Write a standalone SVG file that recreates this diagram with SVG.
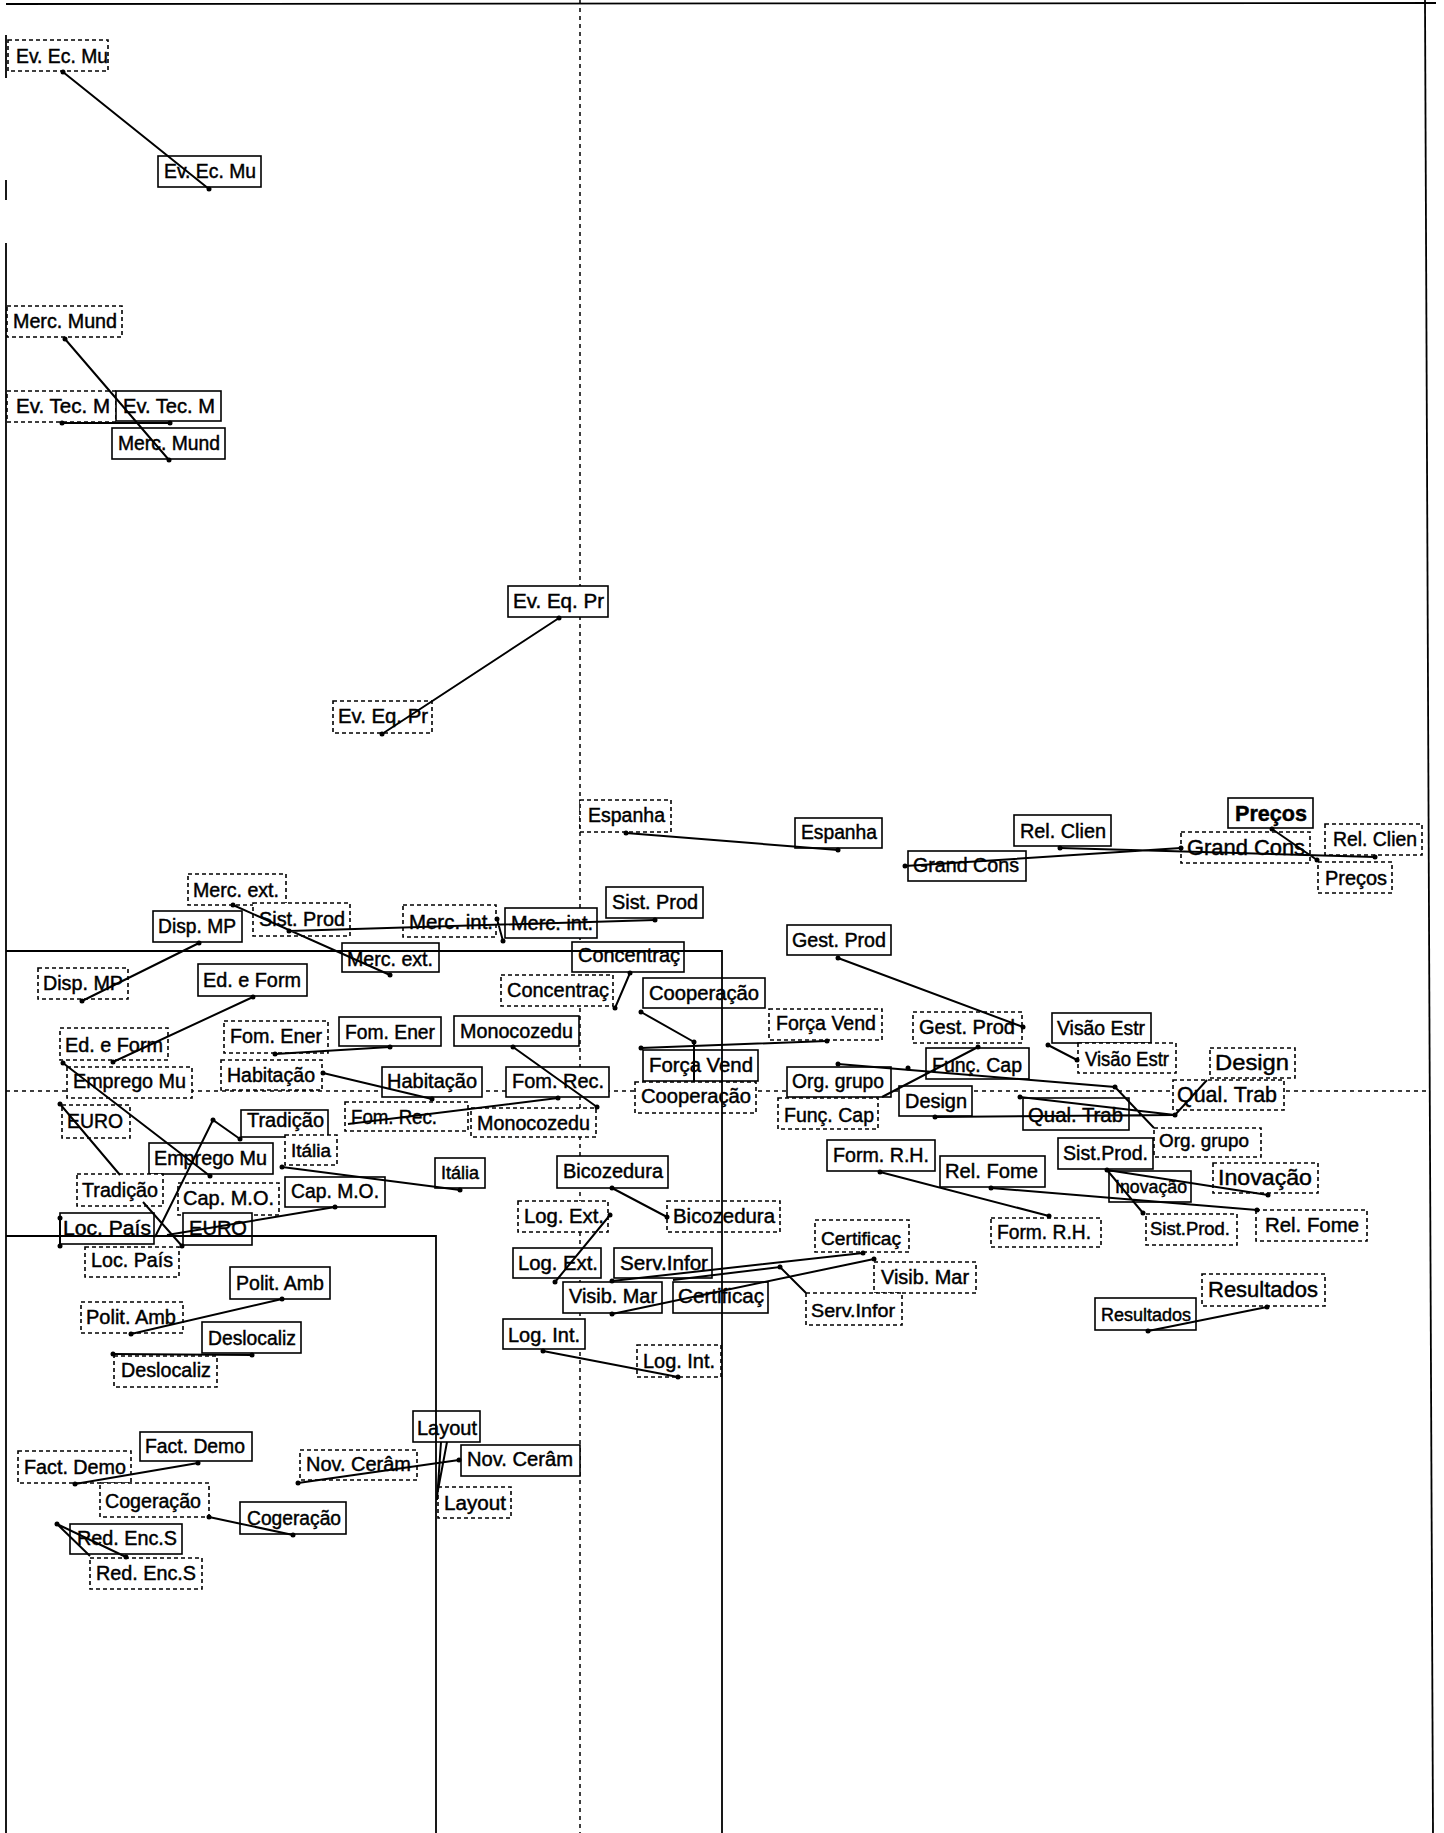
<svg xmlns="http://www.w3.org/2000/svg" width="1444" height="1833" viewBox="0 0 1444 1833">
<style>
.s{fill:#fff;stroke:#000;stroke-width:1.6}
.d{fill:#fff;stroke:#000;stroke-width:1.6;stroke-dasharray:4 3}
text{font-family:"Liberation Sans",Arial,sans-serif;font-size:20px;fill:#000;stroke:#000;stroke-width:0.45}
.sm{font-size:18px}
.lg{font-size:22px}
.ax{stroke:#000;stroke-width:1.5;stroke-dasharray:4 4;fill:none}
.fr{stroke:#000;stroke-width:1.8;fill:none}
.c{stroke:#000;stroke-width:2;fill:none}
.dot{fill:#000}
</style>
<rect x="0" y="0" width="1444" height="1833" fill="#fff"/>
<g id="axes">
<line class="ax" x1="580" y1="0" x2="580" y2="1833"/>
<line class="ax" x1="6" y1="1091" x2="1428" y2="1091"/>
<line class="fr" x1="6" y1="4" x2="1436" y2="3"/>
<line class="fr" x1="6" y1="35" x2="6" y2="78"/>
<line class="fr" x1="6" y1="180" x2="6" y2="200"/>
<line class="fr" x1="6" y1="243" x2="6" y2="1833"/>
<line class="fr" x1="1425" y1="0" x2="1433" y2="1833"/>
</g>
<g id="n1"><rect class="d" x="8" y="40" width="100" height="31"/><text x="16" y="63" textLength="92" lengthAdjust="spacingAndGlyphs">Ev. Ec. Mu</text></g>
<g id="n2"><rect class="s" x="158" y="156" width="103" height="31"/><text x="164" y="178" textLength="92" lengthAdjust="spacingAndGlyphs">Ev. Ec. Mu</text></g>
<g id="n3"><rect class="d" x="7" y="306" width="115" height="31"/><text x="13" y="328" textLength="104" lengthAdjust="spacingAndGlyphs">Merc. Mund</text></g>
<g id="n4"><rect class="d" x="7" y="391" width="109" height="31"/><text x="16" y="413" textLength="94" lengthAdjust="spacingAndGlyphs">Ev. Tec. M</text></g>
<g id="n5"><rect class="s" x="116" y="391" width="105" height="30"/><text x="123" y="413" textLength="92" lengthAdjust="spacingAndGlyphs">Ev. Tec. M</text></g>
<g id="n6"><rect class="s" x="112" y="428" width="113" height="31"/><text x="118" y="450" textLength="102" lengthAdjust="spacingAndGlyphs">Merc. Mund</text></g>
<g id="n7"><rect class="s" x="508" y="586" width="100" height="31"/><text x="513" y="608" textLength="91" lengthAdjust="spacingAndGlyphs">Ev. Eq. Pr</text></g>
<g id="n8"><rect class="d" x="333" y="701" width="99" height="32"/><text x="338" y="723" textLength="90" lengthAdjust="spacingAndGlyphs">Ev. Eq. Pr</text></g>
<g id="n9"><rect class="d" x="580" y="800" width="91" height="32"/><text x="588" y="822" textLength="77" lengthAdjust="spacingAndGlyphs">Espanha</text></g>
<g id="n10"><rect class="s" x="795" y="818" width="87" height="30"/><text x="801" y="839" textLength="76" lengthAdjust="spacingAndGlyphs">Espanha</text></g>
<g id="n11"><rect class="s" x="908" y="851" width="118" height="30"/><text x="913" y="872" textLength="106" lengthAdjust="spacingAndGlyphs">Grand Cons</text></g>
<g id="n12"><rect class="s" x="1014" y="815" width="97" height="31"/><text x="1020" y="838" textLength="86" lengthAdjust="spacingAndGlyphs">Rel. Clien</text></g>
<g id="n13"><rect class="d" x="1181" y="832" width="129" height="31"/><text class="lg" x="1187" y="855" textLength="118" lengthAdjust="spacingAndGlyphs">Grand Cons</text></g>
<g id="n14"><rect class="s" x="1228" y="798" width="85" height="30"/><text class="lg" x="1235" y="821" textLength="72" lengthAdjust="spacingAndGlyphs" font-weight="bold">Preços</text></g>
<g id="n15"><rect class="d" x="1325" y="824" width="97" height="31"/><text x="1333" y="846" textLength="84" lengthAdjust="spacingAndGlyphs">Rel. Clien</text></g>
<g id="n16"><rect class="d" x="1318" y="862" width="74" height="31"/><text x="1325" y="885" textLength="62" lengthAdjust="spacingAndGlyphs">Preços</text></g>
<g id="n17"><rect class="d" x="188" y="874" width="98" height="31"/><text x="193" y="897" textLength="86" lengthAdjust="spacingAndGlyphs">Merc. ext.</text></g>
<g id="n18"><rect class="d" x="253" y="903" width="97" height="33"/><text x="259" y="926" textLength="86" lengthAdjust="spacingAndGlyphs">Sist. Prod</text></g>
<g id="n19"><rect class="s" x="153" y="911" width="89" height="31"/><text x="158" y="933" textLength="78" lengthAdjust="spacingAndGlyphs">Disp. MP</text></g>
<g id="n20"><rect class="s" x="342" y="943" width="97" height="29"/><text x="347" y="966" textLength="86" lengthAdjust="spacingAndGlyphs">Merc. ext.</text></g>
<g id="n21"><rect class="d" x="38" y="968" width="90" height="31"/><text x="43" y="990" textLength="80" lengthAdjust="spacingAndGlyphs">Disp. MP</text></g>
<g id="n22"><rect class="s" x="198" y="964" width="109" height="32"/><text x="203" y="987" textLength="98" lengthAdjust="spacingAndGlyphs">Ed. e Form</text></g>
<g id="n23"><rect class="d" x="60" y="1028" width="108" height="32"/><text x="65" y="1052" textLength="98" lengthAdjust="spacingAndGlyphs">Ed. e Form</text></g>
<g id="n24"><rect class="d" x="224" y="1021" width="104" height="32"/><text x="230" y="1043" textLength="92" lengthAdjust="spacingAndGlyphs">Fom. Ener</text></g>
<g id="n25"><rect class="s" x="339" y="1017" width="102" height="29"/><text x="345" y="1039" textLength="90" lengthAdjust="spacingAndGlyphs">Fom. Ener</text></g>
<g id="n26"><rect class="d" x="221" y="1060" width="101" height="30"/><text x="227" y="1082" textLength="88" lengthAdjust="spacingAndGlyphs">Habitação</text></g>
<g id="n27"><rect class="d" x="67" y="1067" width="125" height="31"/><text x="73" y="1088" textLength="113" lengthAdjust="spacingAndGlyphs">Emprego Mu</text></g>
<g id="n28"><rect class="d" x="403" y="905" width="93" height="32"/><text x="409" y="929" textLength="84" lengthAdjust="spacingAndGlyphs">Merc. int.</text></g>
<g id="n29"><rect class="s" x="505" y="908" width="92" height="30"/><text x="511" y="930" textLength="82" lengthAdjust="spacingAndGlyphs">Merc. int.</text></g>
<g id="n30"><rect class="s" x="606" y="887" width="97" height="31"/><text x="612" y="909" textLength="86" lengthAdjust="spacingAndGlyphs">Sist. Prod</text></g>
<g id="n31"><rect class="s" x="572" y="942" width="112" height="30"/><text x="578" y="962" textLength="102" lengthAdjust="spacingAndGlyphs">Concentraç</text></g>
<g id="n32"><rect class="d" x="501" y="975" width="112" height="31"/><text x="507" y="997" textLength="102" lengthAdjust="spacingAndGlyphs">Concentraç</text></g>
<g id="n33"><rect class="s" x="643" y="978" width="122" height="30"/><text x="649" y="1000" textLength="110" lengthAdjust="spacingAndGlyphs">Cooperação</text></g>
<g id="n34"><rect class="s" x="454" y="1016" width="125" height="30"/><text x="460" y="1038" textLength="113" lengthAdjust="spacingAndGlyphs">Monocozedu</text></g>
<g id="n35"><rect class="s" x="643" y="1050" width="115" height="31"/><text x="649" y="1072" textLength="104" lengthAdjust="spacingAndGlyphs">Força Vend</text></g>
<g id="n36"><rect class="s" x="506" y="1067" width="103" height="30"/><text x="512" y="1088" textLength="92" lengthAdjust="spacingAndGlyphs">Fom. Rec.</text></g>
<g id="n37"><rect class="s" x="382" y="1067" width="100" height="30"/><text x="387" y="1088" textLength="90" lengthAdjust="spacingAndGlyphs">Habitação</text></g>
<g id="n38"><rect class="d" x="635" y="1082" width="121" height="31"/><text x="641" y="1103" textLength="110" lengthAdjust="spacingAndGlyphs">Cooperação</text></g>
<g id="n39"><rect class="d" x="471" y="1108" width="125" height="29"/><text x="477" y="1130" textLength="113" lengthAdjust="spacingAndGlyphs">Monocozedu</text></g>
<g id="n40"><rect class="d" x="345" y="1102" width="123" height="29"/><text x="351" y="1124" textLength="86" lengthAdjust="spacingAndGlyphs">Fom. Rec.</text></g>
<g id="n41"><rect class="d" x="769" y="1009" width="113" height="31"/><text x="776" y="1030" textLength="100" lengthAdjust="spacingAndGlyphs">Força Vend</text></g>
<g id="n42"><rect class="s" x="787" y="925" width="104" height="30"/><text x="792" y="947" textLength="94" lengthAdjust="spacingAndGlyphs">Gest. Prod</text></g>
<g id="n43"><rect class="d" x="913" y="1012" width="109" height="31"/><text x="919" y="1034" textLength="96" lengthAdjust="spacingAndGlyphs">Gest. Prod</text></g>
<g id="n44"><rect class="s" x="1052" y="1013" width="99" height="30"/><text x="1057" y="1035" textLength="88" lengthAdjust="spacingAndGlyphs">Visão Estr</text></g>
<g id="n45"><rect class="d" x="1078" y="1043" width="98" height="30"/><text x="1085" y="1066" textLength="84" lengthAdjust="spacingAndGlyphs">Visão Estr</text></g>
<g id="n46"><rect class="s" x="926" y="1048" width="103" height="31"/><text x="932" y="1072" textLength="90" lengthAdjust="spacingAndGlyphs">Funç. Cap</text></g>
<g id="n47"><rect class="s" x="787" y="1067" width="104" height="30"/><text x="792" y="1088" textLength="92" lengthAdjust="spacingAndGlyphs">Org. grupo</text></g>
<g id="n48"><rect class="d" x="778" y="1098" width="100" height="31"/><text x="784" y="1122" textLength="90" lengthAdjust="spacingAndGlyphs">Funç. Cap</text></g>
<g id="n49"><rect class="s" x="899" y="1086" width="73" height="30"/><text x="905" y="1108" textLength="62" lengthAdjust="spacingAndGlyphs">Design</text></g>
<g id="n50"><rect class="s" x="1023" y="1098" width="106" height="32"/><text x="1028" y="1122" textLength="95" lengthAdjust="spacingAndGlyphs">Qual. Trab</text></g>
<g id="n51"><rect class="s" x="827" y="1140" width="108" height="31"/><text x="833" y="1162" textLength="96" lengthAdjust="spacingAndGlyphs">Form. R.H.</text></g>
<g id="n52"><rect class="s" x="940" y="1156" width="105" height="31"/><text x="945" y="1178" textLength="93" lengthAdjust="spacingAndGlyphs">Rel. Fome</text></g>
<g id="n53"><rect class="s" x="1058" y="1138" width="95" height="31"/><text x="1063" y="1160" textLength="85" lengthAdjust="spacingAndGlyphs">Sist.Prod.</text></g>
<g id="n54"><rect class="s" x="1109" y="1171" width="82" height="31"/><text class="sm" x="1115" y="1193" textLength="72" lengthAdjust="spacingAndGlyphs">Inovação</text></g>
<g id="n55"><rect class="d" x="1154" y="1128" width="107" height="29"/><text class="sm" x="1159" y="1147" textLength="90" lengthAdjust="spacingAndGlyphs">Org. grupo</text></g>
<g id="n56"><rect class="d" x="1173" y="1080" width="111" height="30"/><text class="lg" x="1177" y="1102" textLength="100" lengthAdjust="spacingAndGlyphs">Qual. Trab</text></g>
<g id="n57"><rect class="d" x="1210" y="1048" width="85" height="30"/><text class="lg" x="1215" y="1070" textLength="74" lengthAdjust="spacingAndGlyphs">Design</text></g>
<g id="n58"><rect class="d" x="1213" y="1163" width="105" height="30"/><text class="lg" x="1218" y="1185" textLength="94" lengthAdjust="spacingAndGlyphs">Inovação</text></g>
<g id="n59"><rect class="d" x="1146" y="1214" width="91" height="31"/><text class="sm" x="1150" y="1235" textLength="80" lengthAdjust="spacingAndGlyphs">Sist.Prod.</text></g>
<g id="n60"><rect class="d" x="1256" y="1210" width="111" height="31"/><text x="1265" y="1232" textLength="94" lengthAdjust="spacingAndGlyphs">Rel. Fome</text></g>
<g id="n61"><rect class="d" x="991" y="1218" width="110" height="29"/><text x="997" y="1239" textLength="94" lengthAdjust="spacingAndGlyphs">Form. R.H.</text></g>
<g id="n62"><rect class="s" x="1095" y="1298" width="101" height="32"/><text class="sm" x="1101" y="1321" textLength="90" lengthAdjust="spacingAndGlyphs">Resultados</text></g>
<g id="n63"><rect class="d" x="1202" y="1274" width="123" height="32"/><text class="lg" x="1208" y="1297" textLength="110" lengthAdjust="spacingAndGlyphs">Resultados</text></g>
<g id="n64"><rect class="d" x="62" y="1105" width="68" height="33"/><text x="67" y="1128" textLength="56" lengthAdjust="spacingAndGlyphs">EURO</text></g>
<g id="n65"><rect class="s" x="241" y="1110" width="87" height="27"/><text x="247" y="1127" textLength="77" lengthAdjust="spacingAndGlyphs">Tradição</text></g>
<g id="n66"><rect class="d" x="285" y="1135" width="52" height="30"/><text class="sm" x="291" y="1157" textLength="40" lengthAdjust="spacingAndGlyphs">Itália</text></g>
<g id="n67"><rect class="s" x="149" y="1143" width="124" height="31"/><text x="154" y="1165" textLength="113" lengthAdjust="spacingAndGlyphs">Emprego Mu</text></g>
<g id="n68"><rect class="d" x="77" y="1174" width="86" height="32"/><text x="82" y="1197" textLength="76" lengthAdjust="spacingAndGlyphs">Tradição</text></g>
<g id="n69"><rect class="d" x="178" y="1183" width="101" height="32"/><text x="183" y="1205" textLength="91" lengthAdjust="spacingAndGlyphs">Cap. M.O.</text></g>
<g id="n70"><rect class="s" x="285" y="1177" width="100" height="30"/><text x="291" y="1198" textLength="88" lengthAdjust="spacingAndGlyphs">Cap. M.O.</text></g>
<g id="n71"><rect class="s" x="435" y="1158" width="50" height="30"/><text class="sm" x="441" y="1179" textLength="38" lengthAdjust="spacingAndGlyphs">Itália</text></g>
<g id="n72"><rect class="s" x="60" y="1213" width="94" height="31"/><text x="63" y="1235" textLength="88" lengthAdjust="spacingAndGlyphs">Loc. País</text></g>
<g id="n73"><rect class="s" x="183" y="1213" width="69" height="32"/><text x="189" y="1235" textLength="58" lengthAdjust="spacingAndGlyphs">EURO</text></g>
<g id="n74"><rect class="d" x="85" y="1247" width="94" height="30"/><text x="91" y="1267" textLength="82" lengthAdjust="spacingAndGlyphs">Loc. País</text></g>
<g id="n75"><rect class="s" x="230" y="1267" width="100" height="32"/><text x="236" y="1290" textLength="88" lengthAdjust="spacingAndGlyphs">Polit. Amb</text></g>
<g id="n76"><rect class="d" x="81" y="1302" width="102" height="31"/><text x="86" y="1324" textLength="90" lengthAdjust="spacingAndGlyphs">Polit. Amb</text></g>
<g id="n77"><rect class="s" x="202" y="1322" width="99" height="31"/><text x="208" y="1345" textLength="88" lengthAdjust="spacingAndGlyphs">Deslocaliz</text></g>
<g id="n78"><rect class="d" x="114" y="1356" width="103" height="31"/><text x="121" y="1377" textLength="90" lengthAdjust="spacingAndGlyphs">Deslocaliz</text></g>
<g id="n79"><rect class="s" x="557" y="1156" width="111" height="32"/><text x="563" y="1178" textLength="100" lengthAdjust="spacingAndGlyphs">Bicozedura</text></g>
<g id="n80"><rect class="d" x="667" y="1201" width="113" height="31"/><text x="673" y="1223" textLength="102" lengthAdjust="spacingAndGlyphs">Bicozedura</text></g>
<g id="n81"><rect class="d" x="518" y="1201" width="90" height="31"/><text x="524" y="1223" textLength="80" lengthAdjust="spacingAndGlyphs">Log. Ext.</text></g>
<g id="n82"><rect class="s" x="513" y="1248" width="88" height="30"/><text x="518" y="1270" textLength="80" lengthAdjust="spacingAndGlyphs">Log. Ext.</text></g>
<g id="n83"><rect class="s" x="614" y="1248" width="98" height="30"/><text x="620" y="1270" textLength="88" lengthAdjust="spacingAndGlyphs">Serv.Infor</text></g>
<g id="n84"><rect class="s" x="563" y="1282" width="99" height="31"/><text x="569" y="1303" textLength="88" lengthAdjust="spacingAndGlyphs">Visib. Mar</text></g>
<g id="n85"><rect class="s" x="673" y="1282" width="95" height="31"/><text x="678" y="1303" textLength="86" lengthAdjust="spacingAndGlyphs">Certificaç</text></g>
<g id="n86"><rect class="d" x="815" y="1220" width="94" height="32"/><text class="sm" x="821" y="1245" textLength="80" lengthAdjust="spacingAndGlyphs">Certificaç</text></g>
<g id="n87"><rect class="d" x="874" y="1262" width="102" height="31"/><text x="881" y="1284" textLength="88" lengthAdjust="spacingAndGlyphs">Visib. Mar</text></g>
<g id="n88"><rect class="d" x="806" y="1293" width="96" height="32"/><text class="sm" x="811" y="1317" textLength="84" lengthAdjust="spacingAndGlyphs">Serv.Infor</text></g>
<g id="n89"><rect class="s" x="503" y="1319" width="82" height="30"/><text x="508" y="1342" textLength="72" lengthAdjust="spacingAndGlyphs">Log. Int.</text></g>
<g id="n90"><rect class="d" x="637" y="1345" width="84" height="32"/><text x="643" y="1368" textLength="72" lengthAdjust="spacingAndGlyphs">Log. Int.</text></g>
<g id="n91"><rect class="s" x="140" y="1432" width="112" height="29"/><text x="145" y="1453" textLength="100" lengthAdjust="spacingAndGlyphs">Fact. Demo</text></g>
<g id="n92"><rect class="d" x="18" y="1451" width="113" height="32"/><text x="24" y="1474" textLength="102" lengthAdjust="spacingAndGlyphs">Fact. Demo</text></g>
<g id="n93"><rect class="d" x="100" y="1483" width="109" height="34"/><text x="105" y="1508" textLength="96" lengthAdjust="spacingAndGlyphs">Cogeração</text></g>
<g id="n94"><rect class="s" x="240" y="1502" width="106" height="32"/><text x="247" y="1525" textLength="94" lengthAdjust="spacingAndGlyphs">Cogeração</text></g>
<g id="n95"><rect class="s" x="70" y="1524" width="112" height="30"/><text x="77" y="1545" textLength="100" lengthAdjust="spacingAndGlyphs">Red. Enc.S</text></g>
<g id="n96"><rect class="d" x="90" y="1558" width="112" height="31"/><text x="96" y="1580" textLength="100" lengthAdjust="spacingAndGlyphs">Red. Enc.S</text></g>
<g id="n97"><rect class="d" x="300" y="1450" width="117" height="30"/><text x="306" y="1471" textLength="105" lengthAdjust="spacingAndGlyphs">Nov. Cerâm</text></g>
<g id="n98"><rect class="s" x="461" y="1445" width="119" height="31"/><text x="467" y="1466" textLength="106" lengthAdjust="spacingAndGlyphs">Nov. Cerâm</text></g>
<g id="n99"><rect class="s" x="413" y="1411" width="67" height="31"/><text x="417" y="1435" textLength="60" lengthAdjust="spacingAndGlyphs">Layout</text></g>
<g id="n100"><rect class="d" x="438" y="1487" width="73" height="31"/><text x="444" y="1510" textLength="62" lengthAdjust="spacingAndGlyphs">Layout</text></g>
<g id="frame">
<polyline class="fr" points="6,951 722,951 722,1833"/>
<polyline class="fr" points="6,1236 436,1236 436,1833"/>
</g>
<g id="connectors">
<path class="c" d="M63,72L209,189M65,339L169,460M62,423L170,423M559,618L382,734M626,833L838,850M905,866L1181,848M1060,848L1375,857M1272,829L1317,860"/>
<path class="c" d="M233,905L390,975M289,931L655,920M199,943L82,1001M253,997L113,1062M275,1054L390,1047M323,1073L432,1099M63,1063L210,1176M497,919L503,941M630,973L615,1008"/>
<path class="c" d="M641,1012L694,1042L694,1082M641,1048L827,1041M513,1047L597,1107M558,1098L348,1124M838,958L1023,1027M1048,1045L1077,1060"/>
<path class="c" d="M978,1047L882,1097M838,1064L1115,1087L1154,1128M1020,1097L1175,1115M935,1117L1175,1115L1207,1080M880,1172L1049,1216M991,1188L1257,1210M1107,1170L1143,1213M1107,1170L1268,1195M1148,1331L1267,1307"/>
<path class="c" d="M60,1104L120,1175M143,1202L182,1246M155,1237L213,1120L240,1139M60,1218L60,1246M335,1207L167,1235M282,1167L460,1190M282,1299L131,1334M113,1354L252,1355"/>
<path class="c" d="M612,1188L667,1217M610,1215L555,1282M612,1281L863,1253M612,1314L874,1259M673,1280L780,1267L806,1293M543,1351L678,1377"/>
<path class="c" d="M75,1484L198,1463M209,1517L293,1535M57,1524L126,1557M57,1524L90,1556M298,1483L459,1460M447,1442L438,1490M441,1442L437,1500"/>
<g class="dot">
<circle cx="63" cy="72" r="2.5"/><circle cx="209" cy="189" r="2.5"/><circle cx="65" cy="339" r="2.5"/><circle cx="169" cy="460" r="2.5"/><circle cx="62" cy="423" r="2.5"/><circle cx="170" cy="423" r="2.5"/>
<circle cx="559" cy="618" r="2.5"/><circle cx="382" cy="734" r="2.5"/><circle cx="626" cy="833" r="2.5"/><circle cx="838" cy="850" r="2.5"/><circle cx="905" cy="866" r="2.5"/><circle cx="1181" cy="848" r="2.5"/><circle cx="1060" cy="848" r="2.5"/><circle cx="1375" cy="857" r="2.5"/><circle cx="1272" cy="829" r="2.5"/><circle cx="1317" cy="860" r="2.5"/>
<circle cx="233" cy="905" r="2.5"/><circle cx="390" cy="975" r="2.5"/><circle cx="289" cy="931" r="2.5"/><circle cx="655" cy="920" r="2.5"/><circle cx="199" cy="943" r="2.5"/><circle cx="82" cy="1001" r="2.5"/><circle cx="253" cy="997" r="2.5"/><circle cx="113" cy="1062" r="2.5"/><circle cx="275" cy="1054" r="2.5"/><circle cx="390" cy="1047" r="2.5"/><circle cx="323" cy="1073" r="2.5"/><circle cx="432" cy="1099" r="2.5"/><circle cx="63" cy="1063" r="2.5"/><circle cx="210" cy="1176" r="2.5"/><circle cx="497" cy="919" r="2.5"/><circle cx="503" cy="941" r="2.5"/><circle cx="630" cy="973" r="2.5"/><circle cx="615" cy="1008" r="2.5"/>
<circle cx="641" cy="1012" r="2.5"/><circle cx="694" cy="1042" r="2.5"/><circle cx="641" cy="1048" r="2.5"/><circle cx="827" cy="1041" r="2.5"/><circle cx="513" cy="1047" r="2.5"/><circle cx="597" cy="1107" r="2.5"/><circle cx="558" cy="1098" r="2.5"/><circle cx="838" cy="958" r="2.5"/><circle cx="1023" cy="1027" r="2.5"/><circle cx="1048" cy="1045" r="2.5"/><circle cx="1077" cy="1060" r="2.5"/>
<circle cx="978" cy="1047" r="2.5"/><circle cx="908" cy="1068" r="2.5"/><circle cx="838" cy="1064" r="2.5"/><circle cx="1115" cy="1087" r="2.5"/><circle cx="1020" cy="1097" r="2.5"/><circle cx="1175" cy="1115" r="2.5"/><circle cx="935" cy="1117" r="2.5"/><circle cx="880" cy="1172" r="2.5"/><circle cx="1049" cy="1216" r="2.5"/><circle cx="991" cy="1188" r="2.5"/><circle cx="1257" cy="1210" r="2.5"/><circle cx="1107" cy="1170" r="2.5"/><circle cx="1143" cy="1213" r="2.5"/><circle cx="1268" cy="1195" r="2.5"/><circle cx="1148" cy="1331" r="2.5"/><circle cx="1267" cy="1307" r="2.5"/>
<circle cx="60" cy="1104" r="2.5"/><circle cx="182" cy="1246" r="2.5"/><circle cx="213" cy="1120" r="2.5"/><circle cx="240" cy="1139" r="2.5"/><circle cx="60" cy="1218" r="2.5"/><circle cx="60" cy="1246" r="2.5"/><circle cx="335" cy="1207" r="2.5"/><circle cx="282" cy="1167" r="2.5"/><circle cx="460" cy="1190" r="2.5"/><circle cx="282" cy="1299" r="2.5"/><circle cx="131" cy="1334" r="2.5"/><circle cx="113" cy="1354" r="2.5"/><circle cx="252" cy="1355" r="2.5"/>
<circle cx="612" cy="1188" r="2.5"/><circle cx="667" cy="1217" r="2.5"/><circle cx="610" cy="1215" r="2.5"/><circle cx="555" cy="1282" r="2.5"/><circle cx="612" cy="1281" r="2.5"/><circle cx="863" cy="1253" r="2.5"/><circle cx="612" cy="1314" r="2.5"/><circle cx="874" cy="1259" r="2.5"/><circle cx="780" cy="1267" r="2.5"/><circle cx="543" cy="1351" r="2.5"/><circle cx="678" cy="1377" r="2.5"/>
<circle cx="75" cy="1484" r="2.5"/><circle cx="198" cy="1463" r="2.5"/><circle cx="209" cy="1517" r="2.5"/><circle cx="293" cy="1535" r="2.5"/><circle cx="57" cy="1524" r="2.5"/><circle cx="126" cy="1557" r="2.5"/><circle cx="298" cy="1483" r="2.5"/><circle cx="459" cy="1460" r="2.5"/>
</g>
</g>
</svg>
